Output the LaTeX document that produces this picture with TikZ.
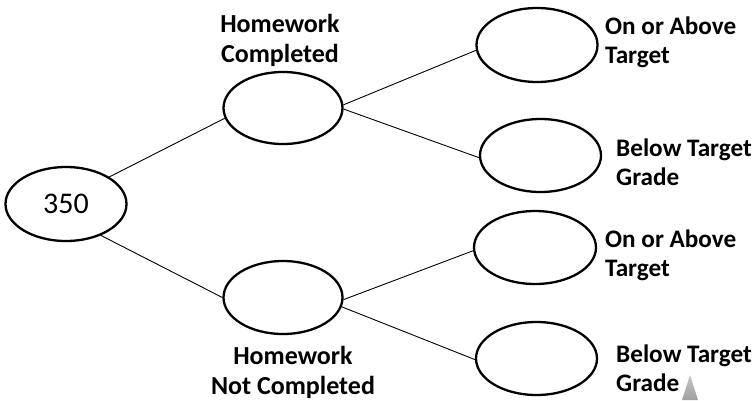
\documentclass[tikz,border=0pt]{standalone}
\usepackage{fontspec}
\setmainfont{Carlito}
\usetikzlibrary{shapes.geometric}
\begin{document}
\begin{tikzpicture}[x=1pt,y=-1pt,
  oval/.style={draw, ellipse, line width=2.3pt, inner sep=0pt},
  link/.style={line width=0.9pt},
  lab/.style={font=\fontsize{25.2}{29}\selectfont\bfseries, inner sep=0pt, align=left},
  labc/.style={font=\fontsize{26}{30}\selectfont\bfseries, inner sep=0pt, align=center}]
\useasboundingbox (0,0) rectangle (754,400);
\fill[white] (0,0) rectangle (754,400);
% ovals
\node[oval, minimum width=121pt, minimum height=74pt, font=\fontsize{30}{34}\selectfont] (root) at (66,204) {350};
\node[oval, minimum width=119pt, minimum height=72pt] (hc) at (283,108) {};
\node[oval, minimum width=119pt, minimum height=73pt] (hn) at (283,297.5) {};
\node[oval, minimum width=121pt, minimum height=74pt] (r1) at (537,45) {};
\node[oval, minimum width=121pt, minimum height=73pt] (r2) at (540.5,155.5) {};
\node[oval, minimum width=122pt, minimum height=73pt] (r3) at (535,247.5) {};
\node[oval, minimum width=121pt, minimum height=73pt] (r4) at (536.5,358.5) {};
% connectors
\draw[link] (root.32) -- (hc.190);
\draw[link] (root.-42) -- (hn.180);
\draw[link] (hc.3) -- (r1.185);
\draw[link] (hc.-1) -- (r2.182);
\draw[link] (hn.-2) -- (r3.183);
\draw[link] (hn.-9) -- (r4.181);
% labels (base anchor = last line's baseline)
\node[labc, anchor=base] (lhc) at (280,62) {Homework\\Completed};
\node[labc, anchor=base] (lhn) at (293,394) {Homework\\Not Completed};
\node[lab, anchor=base west] (l1) at (605,63) {On or Above\\Target};
\node[lab, anchor=base west] (l2) at (616,185) {Below Target\\Grade};
\node[lab, anchor=base west] (l3) at (605,276) {On or Above\\Target};
\node[lab, anchor=base west] (l4) at (616,391) {Below Target\\Grade};
% grey spike
\shade[top color=gray!45, bottom color=gray!75] (690,375) -- (698,400) -- (682,400) -- cycle;
\end{tikzpicture}
\end{document}
